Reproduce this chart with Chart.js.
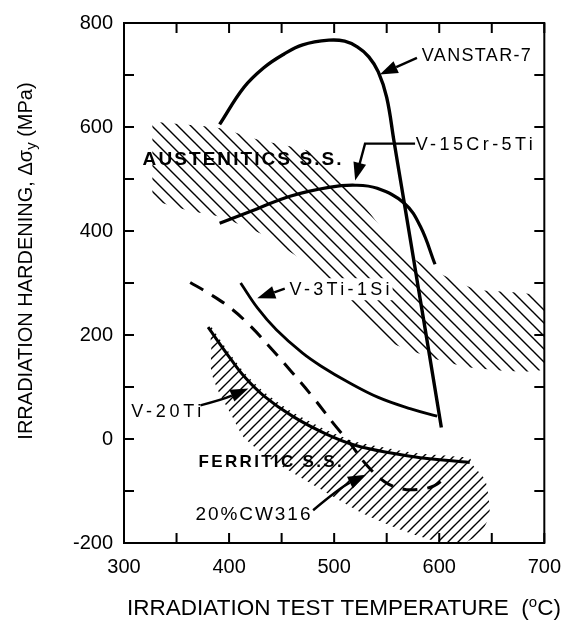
<!DOCTYPE html>
<html><head><meta charset="utf-8">
<script src="https://cdn.jsdelivr.net/npm/chart.js@4/dist/chart.umd.min.js"></script>
<style>html,body{margin:0;padding:0;background:#fff}</style>
</head><body>
<canvas id="c" width="573" height="620" style="width:573px;height:620px;display:block"></canvas>
<script>
// ---- data ----
const vanstarX = [391, 414, 433, 452, 470, 495, 510, 522, 533, 542, 550, 557, 564, 571, 580, 590, 602];
const vanstarY = [605, 676, 714, 740, 758, 767, 765, 754, 735, 706, 657, 572, 487, 402, 292, 170, 22];
const v15CrX = [391, 427, 458, 495, 520, 541, 567, 582, 596];
const v15CrY = [415, 443, 467, 484, 488, 482, 453, 409, 336];
const v3TiX = [411, 427, 445, 470, 490, 511, 542, 573, 598];
const v3TiY = [300, 252, 210, 165, 137, 112, 80, 58, 44];
const v20TiX = [380, 399, 414, 433, 461, 492, 520, 557, 582, 629];
const v20TiY = [215, 161, 121, 83, 43, 10, -12, -28, -36, -45];
const cw316X = [363, 380, 400, 420, 440, 460, 480, 500, 515, 530, 548, 565, 580, 595, 606];
const cw316Y = [301, 281, 254, 218, 174, 128, 80, 28, -8, -48, -82, -96, -97, -90, -74];
// austenitic band outline (upper edge then lower edge back)
const austX = [327, 390, 427, 455, 483, 504, 530, 563, 595, 635, 700, 700, 635, 595, 548, 498, 473, 430, 390, 360, 327];
const austY = [610, 598, 576, 564, 549, 507, 444, 364, 324, 288, 270, 136, 136, 155, 192, 290, 339, 395, 428, 440, 459];
// ferritic region outline
const ferrX = [381, 383, 383, 390, 402, 414, 442, 473, 500, 527, 560, 595, 625, 640, 648, 644, 632, 629, 582, 557, 520, 492, 461, 433, 414, 399, 381];
const ferrY = [222, 180, 130, 91, 47, 3, -42, -80, -112, -143, -172, -195, -198, -180, -143, -80, -50, -37, -28, -20, -5, 18, 51, 91, 129, 169, 222];
const xTickLabels = [300, 400, 500, 600, 700];
const yTickLabels = [-200, 0, 200, 400, 600, 800];

const FONT = '"Liberation Sans", Arial, Helvetica, sans-serif';
const pts = (xs, ys) => xs.map((v, i) => ({x: v, y: ys[i]}));

function hatch(s, dir, lw) {
  const c = document.createElement('canvas'); c.width = s; c.height = s;
  const g = c.getContext('2d'); g.strokeStyle = '#000'; g.lineWidth = lw;
  g.beginPath();
  if (dir === 'back') {
    for (const k of [-1, 0, 1]) { g.moveTo(k * s - 1, -1); g.lineTo(k * s + s + 1, s + 1); }
  } else {
    for (const k of [-1, 0, 1]) { g.moveTo(k * s - 1, s + 1); g.lineTo(k * s + s + 1, -1); }
  }
  g.stroke();
  return g.createPattern(c, 'repeat');
}

const ctx0 = document.getElementById('c').getContext('2d');
const austPattern = hatch(13, 'back', 1.4);
const ferrPattern = hatch(10, 'fwd', 1.4);

const line = (data, w, extra) => Object.assign({
  data, borderColor: '#000', borderWidth: w, pointRadius: 0, fill: false,
  tension: 0.4, order: 1, borderCapStyle: 'butt'
}, extra || {});

const labels = [
  {t: 'VANSTAR-7', x: 583.4, y: 739, w: 109, size: 18},
  {t: 'V-15Cr-5Ti', x: 577.6, y: 568, w: 117, size: 18},
  {t: 'AUSTENITICS S.S.', x: 317.7, y: 539, w: 199, size: 19, bold: true},
  {t: 'V-3Ti-1Si', x: 457.6, y: 288, w: 100, size: 18, bg: true},
  {t: 'V-20Ti', x: 307, y: 53, w: 70, size: 18},
  {t: 'FERRITIC S.S.', x: 371, y: -42, w: 143, size: 17, bold: true},
  {t: '20%CW316', x: 368, y: -143, w: 115, size: 19}
];
const arrows = [
  {p: [[578.8, 733], [543.4, 701]]},
  {p: [[577, 568], [529.4, 568], [523, 520], [520, 497]]},
  {p: [[453, 289], [426.8, 270.5]]},
  {p: [[372.7, 64.8], [394, 76], [418.4, 97]], curve: true},
  {p: [[480, -137], [506, -93], [530.3, -68.6]], curve: true}
];

const deco = {
  id: 'deco',
  afterDatasetsDraw(chart) {
    const {ctx, chartArea: a, scales: {x, y}} = chart;
    ctx.save();
    ctx.strokeStyle = '#000'; ctx.fillStyle = '#000';
    // frame
    ctx.lineWidth = 2;
    ctx.strokeRect(a.left, a.top, a.right - a.left, a.bottom - a.top);
    // inward ticks
    ctx.beginPath();
    x.ticks.forEach(t => { const p = x.getPixelForValue(t.value);
      ctx.moveTo(p, a.bottom); ctx.lineTo(p, a.bottom - 10); ctx.moveTo(p, a.top); ctx.lineTo(p, a.top + 10); });
    y.ticks.forEach(t => { const p = y.getPixelForValue(t.value);
      ctx.moveTo(a.left, p); ctx.lineTo(a.left + 10, p); ctx.moveTo(a.right, p); ctx.lineTo(a.right - 10, p); });
    ctx.stroke();
    // arrows
    arrows.forEach(ar => {
      const P = ar.p.map(q => [x.getPixelForValue(q[0]), y.getPixelForValue(q[1])]);
      const n = P.length, tip = P[n - 1], prev = P[n - 2];
      const ang = Math.atan2(tip[1] - prev[1], tip[0] - prev[0]);
      const L = 18, W = 6.5;
      const bx = tip[0] - L * Math.cos(ang), by = tip[1] - L * Math.sin(ang);
      ctx.lineWidth = 2.4; ctx.beginPath(); ctx.moveTo(P[0][0], P[0][1]);
      if (ar.curve) ctx.quadraticCurveTo(P[1][0], P[1][1], bx, by);
      else { for (let i = 1; i < n - 1; i++) ctx.lineTo(P[i][0], P[i][1]); ctx.lineTo(bx, by); }
      ctx.stroke();
      ctx.beginPath(); ctx.moveTo(tip[0], tip[1]);
      ctx.lineTo(bx + W * Math.sin(ang), by - W * Math.cos(ang));
      ctx.lineTo(bx - W * Math.sin(ang), by + W * Math.cos(ang));
      ctx.closePath(); ctx.fill();
    });
    // labels
    ctx.textBaseline = 'middle'; ctx.textAlign = 'left';
    labels.forEach(l => {
      ctx.font = (l.bold ? 'bold ' : '') + l.size + 'px ' + FONT;
      ctx.letterSpacing = '0px';
      const w0 = ctx.measureText(l.t).width;
      const ls = (l.w - w0) / (l.t.length - 1);
      ctx.letterSpacing = ls + 'px';
      const px = x.getPixelForValue(l.x), py = y.getPixelForValue(l.y);
      if (l.bg) { ctx.fillStyle = '#fff'; ctx.fillRect(px - 3, py - 11, l.w + 6, 22); ctx.fillStyle = '#000'; }
      ctx.fillText(l.t, px, py + 1);
    });
    ctx.letterSpacing = '0px';
    // x axis title with superscript
    const xt1 = 'IRRADIATION TEST TEMPERATURE  (', xs = 'o', xt2 = 'C)';
    ctx.textBaseline = 'alphabetic';
    ctx.font = '22.5px ' + FONT; const a1 = ctx.measureText(xt1).width, a3 = ctx.measureText(xt2).width;
    ctx.font = '15px ' + FONT; const a2 = ctx.measureText(xs).width;
    let sx = 344 - (a1 + a2 + a3) / 2; const by0 = 615;
    ctx.font = '22.5px ' + FONT; ctx.fillText(xt1, sx, by0); sx += a1;
    ctx.font = '15px ' + FONT; ctx.fillText(xs, sx, by0 - 8); sx += a2;
    ctx.font = '22.5px ' + FONT; ctx.fillText(xt2, sx, by0);
    // y axis title with subscript
    ctx.translate(32, 261); ctx.rotate(-Math.PI / 2);
    const yt1 = 'IRRADIATION HARDENING, \u0394\u03c3', ys = 'y', yt2 = ' (MPa)';
    ctx.font = '20px ' + FONT; const b1 = ctx.measureText(yt1).width, b3 = ctx.measureText(yt2).width;
    ctx.font = '15px ' + FONT; const b2 = ctx.measureText(ys).width;
    let sy = -(b1 + b2 + b3) / 2;
    ctx.font = '20px ' + FONT; ctx.fillText(yt1, sy, 0); sy += b1;
    ctx.font = '15px ' + FONT; ctx.fillText(ys, sy, 4); sy += b2;
    ctx.font = '20px ' + FONT; ctx.fillText(yt2, sy, 0);
    ctx.restore();
  }
};

new Chart(ctx0, {
  type: 'line',
  data: {
    datasets: [
      line(pts(vanstarX, vanstarY), 3.4),
      line(pts(v15CrX, v15CrY), 3.2),
      line(pts(v3TiX, v3TiY), 2.8),
      line(pts(v20TiX, v20TiY), 3.0),
      line(pts(cw316X, cw316Y), 3.0, {borderDash: [15, 10]}),
      {data: pts(austX, austY), borderWidth: 0, pointRadius: 0, tension: 0.2, fill: 'shape',
        backgroundColor: austPattern, borderColor: 'rgba(0,0,0,0)', order: 2},
      {data: pts(ferrX, ferrY), borderWidth: 0, pointRadius: 0, tension: 0.2, fill: 'shape',
        backgroundColor: ferrPattern, borderColor: 'rgba(0,0,0,0)', order: 2}
    ]
  },
  options: {
    responsive: false, animation: false, devicePixelRatio: 1,
    layout: {padding: {top: 18, right: 20, left: 0, bottom: 0}},
    plugins: {legend: {display: false}, tooltip: {enabled: false}},
    scales: {
      x: {type: 'linear', min: 300, max: 700,
        grid: {display: false, drawTicks: false}, border: {display: false},
        afterFit: s => { s.height = 77; },
        ticks: {stepSize: 50, autoSkip: false, maxRotation: 0, padding: 12, color: '#000',
          font: {size: 20, family: FONT},
          callback: v => xTickLabels.includes(v) ? String(v) : ''}},
      y: {type: 'linear', min: -200, max: 800,
        grid: {display: false, drawTicks: false}, border: {display: false},
        afterFit: s => { s.width = 124; },
        ticks: {stepSize: 100, autoSkip: false, padding: 11, color: '#000',
          font: {size: 20, family: FONT},
          callback: v => yTickLabels.includes(v) ? String(v) : ''}}
    }
  },
  plugins: [deco]
});
</script>
</body></html>
